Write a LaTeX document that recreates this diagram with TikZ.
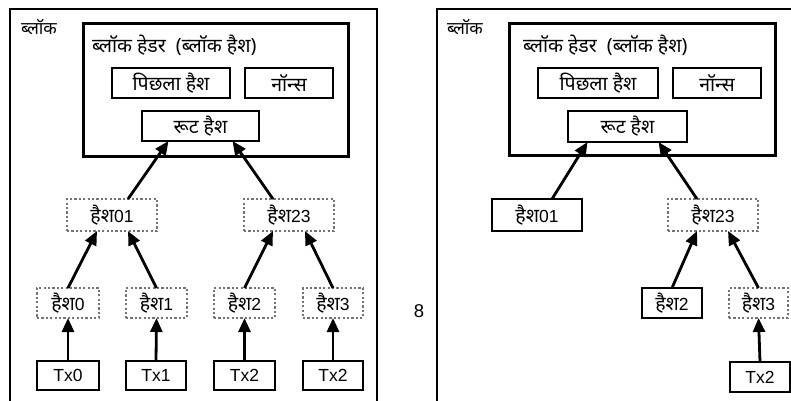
\documentclass[tikz,border=0pt]{standalone}
\usepackage{fontspec}
\setmainfont{Liberation Sans}
\newfontfamily\dev[Script=Devanagari]{Noto Sans}
\newcommand\dv[1]{{\dev\fontsize{19.5}{22}\selectfont #1}}
\usetikzlibrary{arrows.meta}
\tikzset{
  x=1pt,y=-1pt,
  every node/.style={font=\fontsize{17.5}{20}\selectfont, inner sep=0pt, outer sep=0pt},
  solidbox/.style={draw=black, line width=2.8pt, minimum width=#1, minimum height=30pt},
  dotbox/.style={draw=black!55, line width=2.4pt, dash pattern=on 2.2pt off 2.2pt, minimum width=#1, minimum height=30pt},
  outerbox/.style={draw=black, line width=2pt},
  headerbox/.style={draw=black, line width=3pt},
  arr/.style={line width=2.8pt, -{Triangle[length=14pt,width=12pt]}},
}
\begin{document}
\begin{tikzpicture}
\useasboundingbox (0,0) rectangle (791,400);
\clip (0,0) rectangle (791,400);
% ---------------- left panel ----------------
\node[outerbox, minimum width=367pt, minimum height=420pt, anchor=north west] (blockL) at (10,9) {};
\node[anchor=west, font=\dev\fontsize{17.5}{19}\selectfont] (lblL) at (21,27) {ब्लॉक};
\node[headerbox, minimum width=265pt, minimum height=133pt] (hdrL) at (215.5,89.5) {};
\node[anchor=west] (hdrtL) at (92,45) {\dv{ब्लॉक हेडर\ \ (ब्लॉक हैश)}};
\node[solidbox=118pt] (prevL) at (171,83) {\dv{पिछला हैश}};
\node[solidbox=88pt] (nonceL) at (289,83) {\dv{नॉन्स}};
\node[solidbox=117pt] (rootL) at (200.5,126) {\dv{रूट हैश}};
\node[dotbox=90pt, minimum height=32pt] (h01L) at (112,215) {\dv{हैश}01};
\node[dotbox=90pt, minimum height=32pt] (h23L) at (289,215) {\dv{हैश}23};
\node[dotbox=62pt] (h0L) at (68,303) {\dv{हैश}0};
\node[dotbox=61pt] (h1L) at (156.5,303) {\dv{हैश}1};
\node[dotbox=61pt] (h2L) at (244.5,303) {\dv{हैश}2};
\node[dotbox=60pt] (h3L) at (333,303) {\dv{हैश}3};
\node[solidbox=62pt, minimum height=29pt] (tx0L) at (68,375.5) {Tx0};
\node[solidbox=60pt, minimum height=29pt] (tx1L) at (156,375.5) {Tx1};
\node[solidbox=61pt, minimum height=29pt] (tx2L) at (244.5,375.5) {Tx2};
\node[solidbox=60pt, minimum height=29pt] (tx3L) at (333,375.5) {Tx2};
\draw[arr] (tx0L.north) -- (h0L.south);
\draw[arr] (tx1L.north) -- (h1L.south);
\draw[arr] (tx2L.north) -- (h2L.south);
\draw[arr] (tx3L.north) -- (h3L.south);
\draw[arr] (h0L.north) -- ([xshift=-15pt]h01L.south);
\draw[arr] (h1L.north) -- ([xshift=16pt]h01L.south);
\draw[arr] (h2L.north) -- ([xshift=-16pt]h23L.south);
\draw[arr] (h3L.north) -- ([xshift=16pt]h23L.south);
\draw[arr] ([xshift=16pt]h01L.north) -- ([xshift=-32pt]rootL.south);
\draw[arr] ([xshift=-16pt]h23L.north) -- ([xshift=32pt]rootL.south);
% ---------------- middle ----------------
\node[font=\fontsize{18.5}{20}\selectfont] (eight) at (419,311) {8};
% ---------------- right panel ----------------
\node[outerbox, minimum width=400pt, minimum height=420pt, anchor=north west] (blockR) at (437,9) {};
\node[anchor=west, font=\dev\fontsize{17.5}{19}\selectfont] (lblR) at (447,27) {ब्लॉक};
\node[headerbox, minimum width=266pt, minimum height=132pt] (hdrR) at (642,89) {};
\node[anchor=west] (hdrtR) at (523,45) {\dv{ब्लॉक हेडर\ \ (ब्लॉक हैश)}};
\node[solidbox=120pt] (prevR) at (598,83) {\dv{पिछला हैश}};
\node[solidbox=88pt] (nonceR) at (717,83) {\dv{नॉन्स}};
\node[solidbox=119pt, minimum height=31pt] (rootR) at (627.5,126.5) {\dv{रूट हैश}};
\node[solidbox=90pt, minimum height=32pt] (h01R) at (537,215) {\dv{हैश}01};
\node[dotbox=90pt, minimum height=32pt] (h23R) at (713,215) {\dv{हैश}23};
\node[solidbox=60pt] (h2R) at (672,303) {\dv{हैश}2};
\node[dotbox=59pt] (h3R) at (758.5,303) {\dv{हैश}3};
\node[solidbox=60pt] (txR) at (760,377) {Tx2};
\draw[arr] (txR.north) -- (h3R.south);
\draw[arr] (h2R.north) -- ([xshift=-16pt]h23R.south);
\draw[arr] (h3R.north) -- ([xshift=15pt]h23R.south);
\draw[arr] ([xshift=15pt]h01R.north) -- ([xshift=-40pt]rootR.south);
\draw[arr] ([xshift=-16pt]h23R.north) -- ([xshift=31pt]rootR.south);
\end{tikzpicture}
\end{document}
